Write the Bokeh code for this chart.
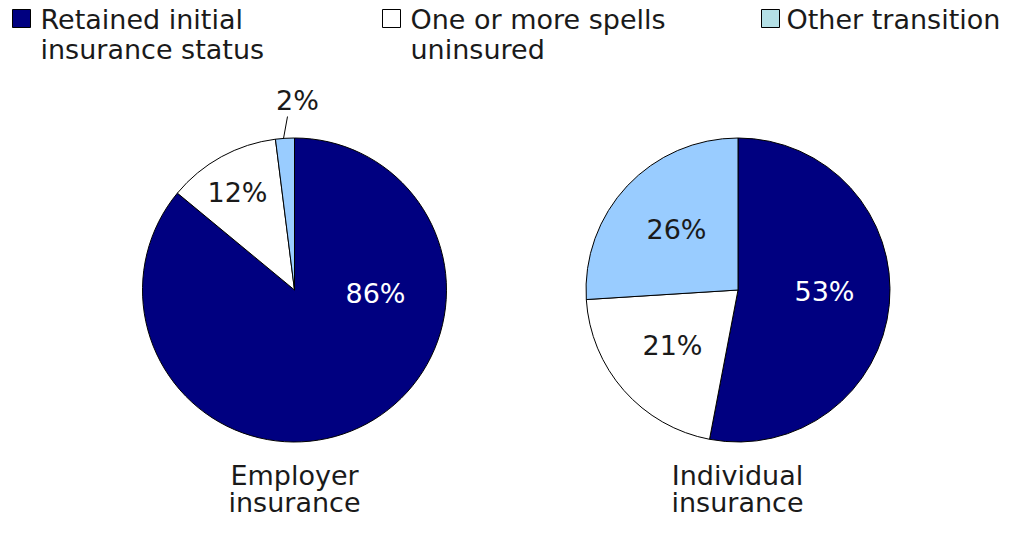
import numpy as np
from bokeh.plotting import figure
from bokeh.models import ColumnDataSource, Range1d
from bokeh.core.properties import value
from bokeh.embed import file_html
from bokeh.resources import INLINE

# ---------------- data ----------------
categories = ["Retained initial insurance status", "One or more spells uninsured", "Other transition"]
legend_lines = [["Retained initial", "insurance status"], ["One or more spells", "uninsured"], ["Other transition"]]
employer = [86, 12, 2]
individual = [53, 21, 26]
pie_titles = [["Employer", "insurance"], ["Individual", "insurance"]]
slice_colors = ["#000080", "#FFFFFF", "#99CCFF"]
legend_colors = ["#000080", "#FFFFFF", "#B4E0E6"]

# ---------------- layout ----------------
W, H = 1005, 517
FONT = "DejaVu Sans"
FS = "27px"
TXT = "#1a1a1a"

def X(px):  # picture x -> data x
    return px

def Y(py):  # picture y -> data y
    return H - py

p = figure(width=W, height=H, output_backend="svg", toolbar_location=None,
           x_axis_location=None, y_axis_location=None, min_border=0,
           x_range=Range1d(0, W), y_range=Range1d(0, H))
p.grid.visible = False
p.outline_line_color = None
p.background_fill_color = "white"
p.border_fill_color = "white"

pies = [
    dict(vals=employer, cx=294, cy=289.5, r=152,
         label_pos=[(375, 293), (237, 192), (297, 100)],
         label_colors=["white", TXT, TXT],
         title_x=294),
    dict(vals=individual, cx=737.5, cy=289.5, r=152,
         label_pos=[(824, 291), (672, 345), (676, 229)],
         label_colors=["white", TXT, TXT],
         title_x=737),
]

for pie, titles in zip(pies, pie_titles):
    vals = np.array(pie["vals"], dtype=float)
    frac = vals / vals.sum()
    cum = np.concatenate([[0], np.cumsum(frac)])
    start = np.pi / 2 - 2 * np.pi * cum[:-1]
    end = np.pi / 2 - 2 * np.pi * cum[1:]
    src = ColumnDataSource(dict(
        x=[X(pie["cx"])] * len(vals), y=[Y(pie["cy"])] * len(vals),
        start=start, end=end, color=slice_colors,
        cat=categories))
    p.wedge(x="x", y="y", radius=pie["r"], start_angle="start", end_angle="end",
            direction="clock", fill_color="color", line_color="black", line_width=1,
            source=src)
    lsrc = ColumnDataSource(dict(
        x=[X(a) for a, b in pie["label_pos"]],
        y=[Y(b) for a, b in pie["label_pos"]],
        text=[f"{int(v)}%" for v in vals],
        color=pie["label_colors"]))
    p.text(x="x", y="y", text="text", text_color="color", source=lsrc,
           text_font=value(FONT), text_font_size=FS,
           text_align="center", text_baseline="middle")
    for i, t in enumerate(titles):
        p.text(x=[X(pie["title_x"])], y=[Y(475 + 27 * i)], text=[t],
               text_font=value(FONT), text_font_size=FS, text_color=TXT,
               text_align="center", text_baseline="middle")

# leader line for the small 2% slice
p.line(x=[X(283), X(287)], y=[Y(138), Y(116)], line_color="black", line_width=1)

# ---------------- legend ----------------
leg_sq_x = [21, 391, 770]
leg_txt_x = [40, 410, 786]
p.rect(x=[X(v) for v in leg_sq_x], y=[Y(18)] * 3, width=18, height=18,
       fill_color=legend_colors, line_color="black", line_width=1)
for lines, tx in zip(legend_lines, leg_txt_x):
    for j, t in enumerate(lines):
        p.text(x=[X(tx)], y=[Y(19 + 30 * j)], text=[t],
               text_font=value(FONT), text_font_size=FS, text_color=TXT,
               text_align="left", text_baseline="middle")

open("out.html", "w").write(file_html(p, INLINE))
